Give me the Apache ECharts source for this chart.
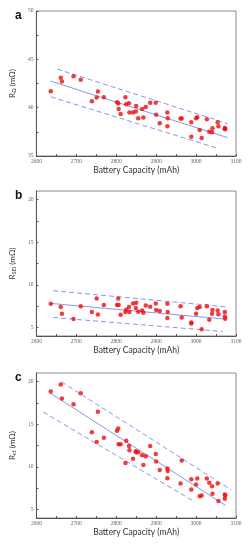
<!DOCTYPE html>
<html><head><meta charset="utf-8">
<script src="https://cdn.jsdelivr.net/npm/echarts@6/dist/echarts.min.js"></script>
<style>html,body{margin:0;padding:0;background:#fff}#c{width:252px;height:550px}</style>
</head><body><div id="c"></div>
<script>
const capacity = [2636,2661,2664,2693,2711,2739,2751,2754,2769,2802,2805,2806,2811,2823,2825,2832,2833,2842,2849,2850,2855,2865,2868,2874,2885,2899,2900,2909,2928,2929,2928,2961,2964,2988,2988,3000,3003,3009,3014,3027,3033,3040,3041,3054,3056,3072,3072,3073];
const rOhm = [41.7,43.1,42.7,43.26,42.9,40.67,41.05,41.67,41.08,40.56,40.46,39.87,39.35,41.08,40.36,40.46,39.49,39.49,39.6,40.18,38.9,39.87,38.97,40.08,40.5,40.5,39.28,38.39,39.49,38.9,38.07,38.87,38.87,38.49,37.0,38.9,39.0,37.7,36.86,38.8,37.5,37.45,37.87,38.49,38.07,37.9,37.76,37.82];
const rSei = [7.78,7.39,6.6,5.98,7.5,6.8,8.41,6.53,7.62,7.62,8.41,7.62,6.49,6.8,7.07,7.39,6.8,7.82,7.27,7.9,6.84,7.0,6.72,7.58,7.43,7.82,7.04,6.92,7.78,6.8,6.1,7.5,6.17,5.59,5.47,6.6,7.27,7.39,4.8,7.5,5.9,6.6,7.04,7.0,6.56,6.8,6.29,6.02];
const rCt = [18.83,19.65,18.0,17.35,18.64,14.04,12.9,16.45,13.42,14.23,14.5,12.64,12.64,10.46,13.07,12.44,11.94,10.96,11.82,11.7,11.7,11.35,10.22,11.23,12.44,11.51,10.61,9.64,9.79,9.52,8.66,8.04,10.73,8.55,7.34,7.92,8.62,6.56,6.64,8.62,8.12,7.73,6.83,8.04,5.98,6.75,6.25,6.64];
const ohmFit = [[2636,42.74],[3079,36.9]];
const ohmUpper = [[2652,43.99],[3079,38.35]];
const ohmLower = [[2636,41.12],[3057,35.76]];
const seiFit = [[2636,7.82],[3073,5.98]];
const seiUpper = [[2642,9.31],[3073,7.43]];
const seiLower = [[2642,6.17],[3067,4.53]];
const ctFit = [[2636,18.6],[3074,5.47]];
const ctUpper = [[2663,19.96],[3088,7.3]];
const ctLower = [[2617,16.42],[2998,5.86]];
const xTicks = [2600,2700,2800,2900,3000,3100];
const yTicksA = [35,40,45,50];
const yTicksBC = [5,10,15,20];
const panelLetters = ['a','b','c'];
const yNames = [['R','Ω'],['R','SEI'],['R','ct']];

const chart = echarts.init(document.getElementById('c'), null, {renderer:'canvas'});
const tops = [11,191,373];
const H = 145;
const lineColor = '#8599ea';
const grids = [], xAxes = [], yAxes = [], series = [], titles = [];
const ranges = [[35,50],[4,21],[4,21]];
const datasets = [rOhm, rSei, rCt];
const fits = [[ohmFit,ohmUpper,ohmLower],[seiFit,seiUpper,seiLower],[ctFit,ctUpper,ctLower]];
const xMinor = [];
for (let k=0;k<xTicks.length;k++){ xMinor.push(xTicks[k]); if(k<xTicks.length-1) xMinor.push((xTicks[k]+xTicks[k+1])/2); }
for (let i=0;i<3;i++){
  grids.push({left:31, width:205, top:tops[i], height:H, show:true, borderColor:'#8a8a8a', borderWidth:1, backgroundColor:'#fff'});
  xAxes.push({type:'value', gridIndex:i, min:2600, max:3100,
    name:'Battery Capacity (mAh)', nameLocation:'middle', nameGap:10,
    nameTextStyle:{fontFamily:'Lato', fontSize:8.5, color:'#333'},
    axisLine:{show:true, lineStyle:{color:'#555', width:1}},
    axisTick:{show:true, inside:true, length:2, customValues:xMinor, lineStyle:{color:'#555'}},
    axisLabel:{fontFamily:'Liberation Serif', fontSize:5.5, color:'#666', margin:3, customValues:xTicks, formatter:v=>String(v)},
    splitLine:{show:false}});
  const yt = i===0 ? yTicksA : yTicksBC;
  const minorVals = [];
  for (let k=0;k<yt.length;k++){ minorVals.push(yt[k]); if(k<yt.length-1) minorVals.push((yt[k]+yt[k+1])/2); }
  yAxes.push({type:'value', gridIndex:i, min:ranges[i][0], max:ranges[i][1],
    name:'{m|'+yNames[i][0]+'}{s|'+yNames[i][1]+'}{m| (mΩ)}', nameLocation:'middle', nameGap:12,
    nameTextStyle:{fontFamily:'Lato', fontSize:8, color:'#333', rich:{
      m:{fontFamily:'Lato', fontSize:8, color:'#333', lineHeight:10, verticalAlign:'bottom'},
      s:{fontFamily:'Lato', fontSize:5.5, color:'#333', lineHeight:10, verticalAlign:'bottom', padding:[0,0,-1,0]}}},
    axisLine:{show:true, lineStyle:{color:'#555', width:1}},
    axisTick:{show:true, inside:true, length:2, customValues:minorVals, lineStyle:{color:'#555'}},
    axisLabel:{fontFamily:'Liberation Serif', fontSize:5.5, color:'#666', margin:3, customValues:yt},
    splitLine:{show:false}});
  const pts = capacity.map((c,j)=>[c, datasets[i][j]]);
  const [f,u,l] = fits[i];
  series.push({type:'line', xAxisIndex:i, yAxisIndex:i, data:f, symbol:'none', lineStyle:{color:lineColor, width:1}, z:2, silent:true});
  series.push({type:'line', xAxisIndex:i, yAxisIndex:i, data:u, symbol:'none', lineStyle:{color:lineColor, width:1, type:[5,3]}, z:2, silent:true});
  series.push({type:'line', xAxisIndex:i, yAxisIndex:i, data:l, symbol:'none', lineStyle:{color:lineColor, width:1, type:[5,3]}, z:2, silent:true});
  series.push({type:'scatter', xAxisIndex:i, yAxisIndex:i, data:pts, symbolSize:4.5, itemStyle:{color:'#ee0c0c'}, z:5, silent:true});
  titles.push({text:panelLetters[i], left:10, top:tops[i]-6, textStyle:{fontFamily:'Liberation Sans', fontWeight:'bold', fontSize:12, color:'#111'}});
}
chart.setOption({animation:false, backgroundColor:'#fff', title:titles, grid:grids, xAxis:xAxes, yAxis:yAxes, series:series});
</script></body></html>
